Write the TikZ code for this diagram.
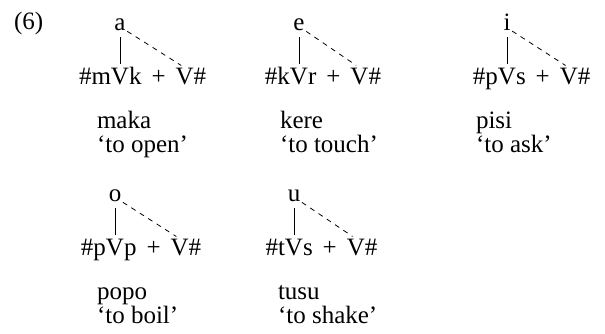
\documentclass[tikz,border=0pt]{standalone}
\usepackage{fontspec}
\setmainfont{Liberation Serif}
\usetikzlibrary{positioning}
\tikzset{
  seg/.style={inner sep=0pt, outer sep=0pt, font=\fontsize{25}{29}\selectfont},
  assoc/.style={line width=0.9pt, shorten <=7pt, shorten >=4pt},
  spread/.style={line width=0.8pt, dash pattern=on 5pt off 5pt, shorten <=2pt, shorten >=4pt}
}
% one harmony tree: name, x of root V, formula baseline, vowel, onset, coda, word, gloss, x of word
\newcommand{\harm}[9]{%
  \node[seg, anchor=base] (#1V) at (#2,#3) {V};
  \node[seg, anchor=base east] (#1on) at (#1V.base west) {$\#$#5};
  \node[seg, anchor=base west] (#1co) at (#1V.base east) {#6\kern0.4em+\kern0.4em};
  \node[seg, anchor=base west] (#1suf) at (#1co.base east) {V};
  \node[seg, anchor=base west] (#1end) at (#1suf.base east) {$\#$};
  \node[seg, anchor=base] (#1) at ([yshift=54pt]#1V.base) {#4};
  \node[seg, anchor=base west] (#1word) at (#9,#3+44) {#7};
  \node[seg, anchor=base west] (#1gloss) at (#9,#3+68) {#8};
  \draw[assoc] (#1.south) -- (#1.south |- #1V.north);
  \draw[spread] (#1.south east) -- (#1suf.north);
}

\begin{document}
\begin{tikzpicture}[x=1pt, y=-1pt]
  \useasboundingbox (0,0) rectangle (605,333);
  \node[seg, anchor=base west] (ex) at (14,29) {(6)};
  \harm{a}{120}{84}{a}{m}{k}{maka}{`to open'}{97}
  \harm{e}{299}{84}{e}{k}{r}{kere}{`to touch'}{280}
  \harm{i}{507}{84}{i}{p}{s}{pisi}{`to ask'}{476}
  \harm{o}{115}{255}{o}{p}{p}{popo}{`to boil'}{97}
  \harm{u}{294}{255}{u}{t}{s}{tusu}{`to shake'}{278}
\end{tikzpicture}
\end{document}
